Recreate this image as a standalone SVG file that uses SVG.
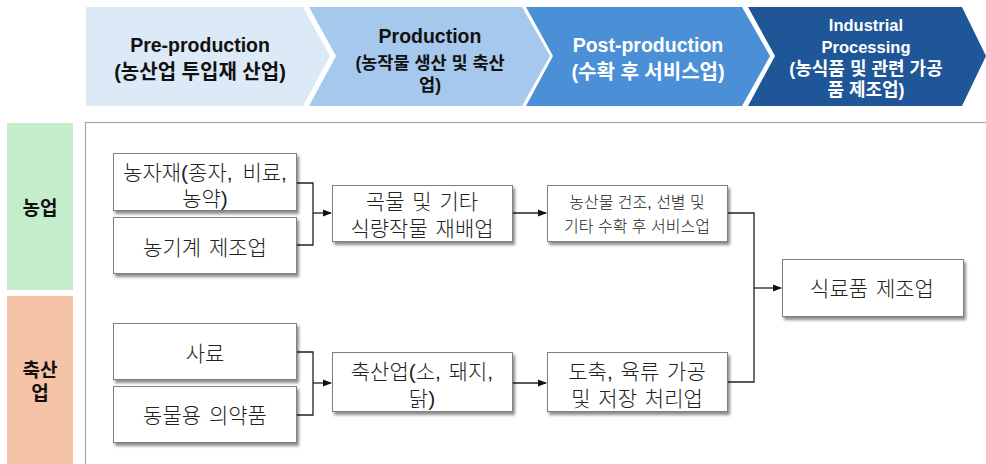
<svg xmlns="http://www.w3.org/2000/svg" width="986" height="464" viewBox="0 0 986 464">
<style>
.hd{font-family:"Liberation Sans","Noto Sans CJK KR",sans-serif;font-weight:bold;text-anchor:middle;dominant-baseline:central}
.bx{fill:#fff;stroke:#7f7f7f;stroke-width:1;filter:url(#sh)}
.tx{font-family:"Liberation Sans","Noto Sans CJK KR",sans-serif;font-weight:300;font-size:21px;word-spacing:2px;fill:#222;text-anchor:middle;dominant-baseline:central}
.sm{font-size:16px;word-spacing:0px}
.cn{fill:none;stroke:#222;stroke-width:1.3}
</style>
<defs>
<filter id="sh" x="-10%" y="-10%" width="125%" height="135%">
<feDropShadow dx="2" dy="3" stdDeviation="1.5" flood-color="#000" flood-opacity="0.45"/>
</filter>
<marker id="ar" viewBox="0 0 10 10" refX="9" refY="5" markerWidth="7" markerHeight="7" orient="auto">
<path d="M0,1 L10,5 L0,9 z" fill="#111"/>
</marker>
</defs>
<rect width="986" height="464" fill="#fff"/>
<g id="stage-pre">
<polygon points="86,7 303,7 330,56 303,106 86,106" fill="#dce9f6"/>
<text class="hd" x="200" y="45" font-size="19.5" fill="#111">Pre-production</text>
<text class="hd" x="200" y="72" font-size="20" fill="#111">(농산업 투입재 산업)</text>
</g>
<g id="stage-prod">
<polygon points="309,7 522,7 550,56 522,106 309,106 336,56" fill="#a6c8ec"/>
<text class="hd" x="430" y="36" font-size="19.5" fill="#111">Production</text>
<text class="hd" x="430" y="63" font-size="17.5" fill="#111">(농작물 생산 및 축산</text>
<text class="hd" x="430" y="85" font-size="17.5" fill="#111">업)</text>
</g>
<g id="stage-post">
<polygon points="526,7 742,7 770,56 742,106 526,106 553,56" fill="#4b8fd6"/>
<text class="hd" x="648" y="45" font-size="19.5" fill="#fff">Post-production</text>
<text class="hd" x="648" y="72" font-size="20" fill="#fff">(수확 후 서비스업)</text>
</g>
<g id="stage-ind">
<polygon points="748,7 962,7 986,56 962,106 748,106 775,56" fill="#1f5698"/>
<text class="hd" x="866" y="25" font-size="16.5" fill="#fff">Industrial</text>
<text class="hd" x="866" y="47" font-size="16.5" fill="#fff">Processing</text>
<text class="hd" x="866" y="69" font-size="18" fill="#fff">(농식품 및 관련 가공</text>
<text class="hd" x="866" y="90" font-size="18" fill="#fff">품 제조업)</text>
</g>
<g id="row-agri">
<rect x="7" y="123" width="66" height="167" fill="#c4edcb"/>
<text class="hd" x="40" y="208" font-size="19" fill="#111">농업</text>
</g>
<g id="row-live">
<rect x="7" y="296" width="66" height="168" fill="#f5c3a6"/>
<text class="hd" x="40" y="370" font-size="19" fill="#111">축산</text>
<text class="hd" x="40" y="393" font-size="19" fill="#111">업</text>
</g>
<rect id="panel" x="85.5" y="122.5" width="910" height="350" fill="#fff" stroke="#a6a6a6" stroke-width="1.2"/>
<g id="connectors">
<polyline class="cn" points="297,183 313,183 313,245 297,245"/>
<line class="cn" x1="313" y1="213" x2="331" y2="213" marker-end="url(#ar)"/>
<line class="cn" x1="513" y1="213" x2="546" y2="213" marker-end="url(#ar)"/>
<polyline class="cn" points="297,352 313,352 313,415 297,415"/>
<line class="cn" x1="313" y1="383" x2="331" y2="383" marker-end="url(#ar)"/>
<line class="cn" x1="513" y1="383" x2="546" y2="383" marker-end="url(#ar)"/>
<polyline class="cn" points="728,213 754,213 754,382 728,382"/>
<line class="cn" x1="754" y1="288" x2="781" y2="288" marker-end="url(#ar)"/>
</g>
<g id="n-inputs">
<rect class="bx" x="113.5" y="153.5" width="183" height="57"/>
<text class="tx" x="205" y="172" style="word-spacing:4px">농자재(종자, 비료,</text>
<text class="tx" x="205" y="198">농약)</text>
</g>
<g id="n-machinery">
<rect class="bx" x="113.5" y="217.5" width="183" height="56"/>
<text class="tx" x="205" y="247">농기계 제조업</text>
</g>
<g id="n-crops">
<rect class="bx" x="332.5" y="185.5" width="180" height="56"/>
<text class="tx" x="422" y="201">곡물 및 기타</text>
<text class="tx" x="422" y="228">식량작물 재배업</text>
</g>
<g id="n-postharvest">
<rect class="bx" x="547.5" y="185.5" width="180" height="56"/>
<text class="tx sm" x="637" y="202">농산물 건조, 선별 및</text>
<text class="tx sm" x="637" y="226">기타 수확 후 서비스업</text>
</g>
<g id="n-food">
<rect class="bx" x="782.5" y="259.5" width="181" height="57"/>
<text class="tx" x="872" y="288">식료품 제조업</text>
</g>
<g id="n-feed">
<rect class="bx" x="113.5" y="323.5" width="183" height="56"/>
<text class="tx" x="205" y="353">사료</text>
</g>
<g id="n-vet">
<rect class="bx" x="113.5" y="386.5" width="183" height="56"/>
<text class="tx" x="205" y="415">동물용 의약품</text>
</g>
<g id="n-livestock">
<rect class="bx" x="332.5" y="352.5" width="180" height="59"/>
<text class="tx" x="422" y="371">축산업(소, 돼지,</text>
<text class="tx" x="422" y="398">닭)</text>
</g>
<g id="n-slaughter">
<rect class="bx" x="547.5" y="352.5" width="180" height="59"/>
<text class="tx" x="637" y="371">도축, 육류 가공</text>
<text class="tx" x="637" y="398">및 저장 처리업</text>
</g>
</svg>
